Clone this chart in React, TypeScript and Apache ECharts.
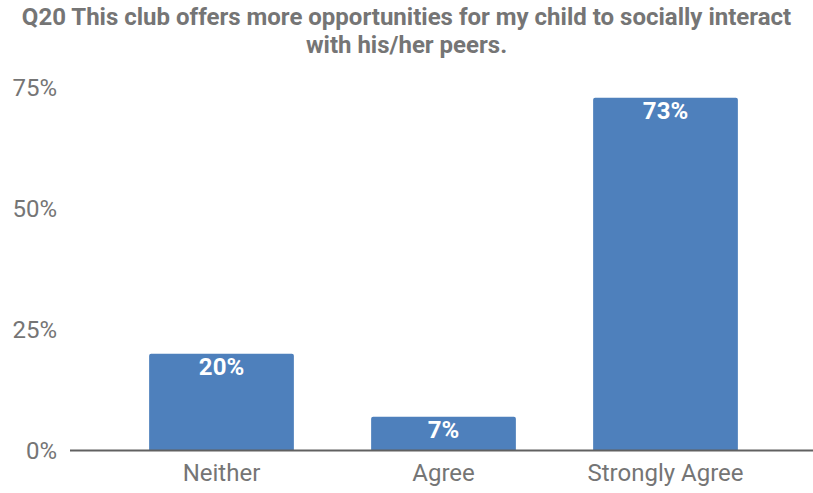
import React, { useEffect, useRef } from "react";
import * as echarts from "echarts";

const categories = ["Neither", "Agree", "Strongly Agree"];
const values = [20, 7, 73];
const yTicks = [0, 25, 50, 75];
const titleLines = [
  "Q20 This club offers more opportunities for my child to socially interact",
  "with his/her peers.",
];

export default function App() {
  const ref = useRef<HTMLDivElement>(null);
  useEffect(() => {
    if (!ref.current) return;
    const chart = echarts.init(ref.current, undefined, { renderer: "svg" });
    chart.setOption({
      animation: false,
      title: {
        text: titleLines.join("\n"),
        left: "center",
        top: 3,
        padding: 0,
        textStyle: {
          fontFamily: "Roboto",
          fontWeight: "bold",
          fontSize: 24,
          color: "#757575",
          lineHeight: 28,
        },
      },
      grid: { left: 110.5, right: 36.5, top: 88, bottom: 42.5 },
      xAxis: {
        type: "category",
        data: categories,
        axisLine: { show: false },
        axisTick: { show: false },
        axisLabel: {
          fontFamily: "Roboto",
          fontSize: 24,
          color: "#757575",
          margin: 10,
        },
      },
      yAxis: {
        type: "value",
        min: yTicks[0],
        max: yTicks[yTicks.length - 1],
        interval: 25,
        splitLine: { show: false },
        axisLine: { show: false },
        axisTick: { show: false },
        axisLabel: {
          fontFamily: "Roboto",
          fontSize: 24,
          color: "#757575",
          margin: 53.5,
          formatter: "{value}%",
        },
      },
      graphic: [
        {
          type: "line",
          shape: { x1: 70, y1: 450.5, x2: 813, y2: 450.5 },
          style: { stroke: "#616161", lineWidth: 2 },
          z: 10,
        },
      ],
      series: [
        {
          type: "bar",
          data: values,
          barCategoryGap: "34.8%",
          itemStyle: { color: "#4e80bc", borderRadius: [2, 2, 0, 0] },
          label: {
            show: true,
            position: "insideTop",
            distance: 1,
            formatter: "{c}%",
            color: "#ffffff",
            fontFamily: "Roboto",
            fontWeight: "bold",
            fontSize: 24,
          },
        },
      ],
    });
    return () => chart.dispose();
  }, []);
  return (
    <div
      ref={ref}
      style={{ position: "absolute", left: 0, top: 0, width: 813, height: 493 }}
    />
  );
}
